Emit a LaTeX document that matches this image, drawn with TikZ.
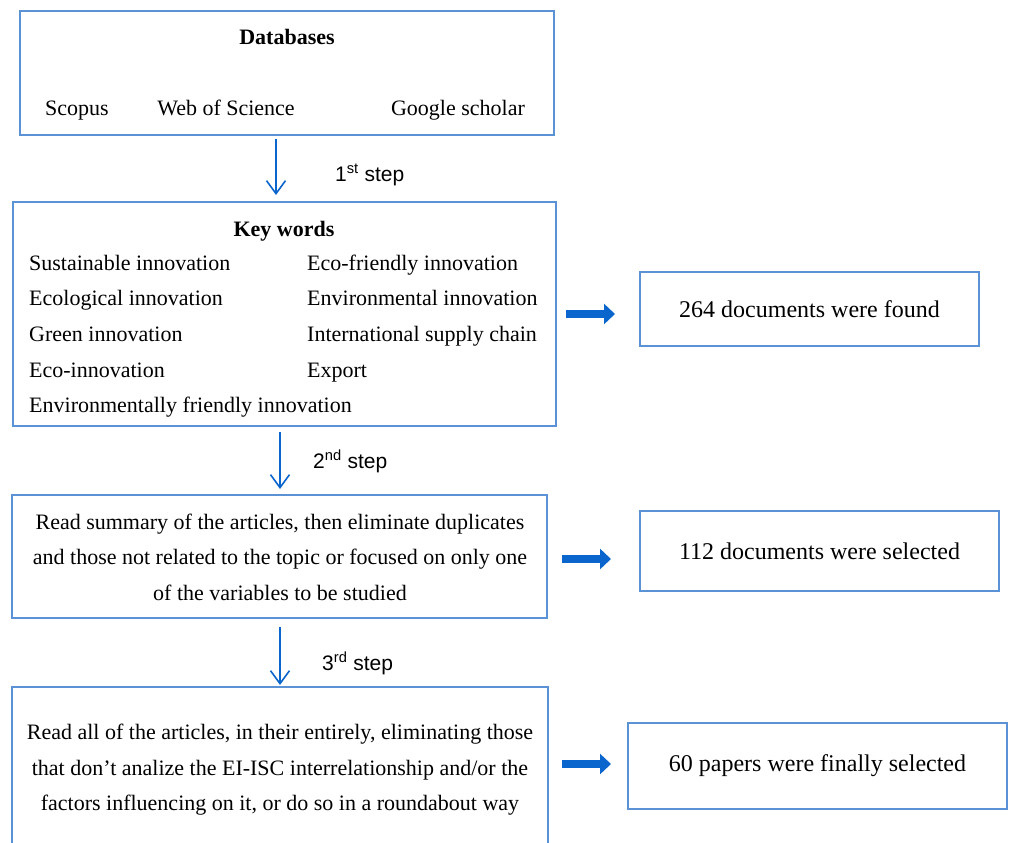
\documentclass[tikz,border=0pt]{standalone}
\usepackage{fontspec}
\setmainfont{Liberation Serif}
\newfontfamily\stepfont{Liberation Sans}
\usetikzlibrary{arrows.meta}
\definecolor{boxblue}{RGB}{91,145,213}
\definecolor{arrblue}{RGB}{10,102,204}
\begin{document}
\begin{tikzpicture}[x=1pt,y=-1pt,
  box/.style={draw=boxblue, line width=1.1pt, inner sep=0pt, outer sep=0pt, anchor=north west},
  rbox/.style={box, align=center, font=\fontsize{24}{28}\selectfont},
  txt/.style={inner sep=0pt, font=\fontsize{22}{26}\selectfont},
  para/.style={inner sep=0pt, align=center, font=\fontsize{22}{35.5}\selectfont},
  steplbl/.style={inner sep=0pt, anchor=base west, font=\stepfont\fontsize{21}{25}\selectfont},
  varrow/.style={draw=arrblue, line width=1.6pt, -{Straight Barb[length=13pt,width=19pt,line width=1.6pt]}},
  blockarrow/.style={draw=arrblue, line width=8pt, -{Triangle[length=11pt,width=20pt]}}]
\useasboundingbox (0,0) rectangle (1009,843);
\clip (0,0) rectangle (1009,843);
\fill[white] (0,0) rectangle (1009,843);

% boxes
\node[box, minimum width=534pt, minimum height=124pt] (b1) at (20,11) {};
\node[box, minimum width=543pt, minimum height=224pt] (kw) at (13,202) {};
\node[box, minimum width=535pt, minimum height=123pt] (b3) at (12,495) {};
\node[box, minimum width=536pt, minimum height=250pt] (b4) at (12,687) {};
\node[rbox, minimum width=339pt, minimum height=74pt] (r1) at (640,272) {264 documents were found};
\node[rbox, minimum width=359pt, minimum height=80pt] (r2) at (640,511) {112 documents were selected};
\node[rbox, minimum width=379pt, minimum height=86pt] (r3) at (628,723) {60 papers were finally selected};

% databases
\node[txt, anchor=base] (dbt) at (287,45) {\bfseries Databases};
\node[txt, anchor=base] (db1) at (77,115) {Scopus};
\node[txt, anchor=base] (db2) at (226,115) {Web of Science};
\node[txt, anchor=base] (db3) at (458,115) {Google scholar};

% key words
\node[txt, anchor=base] (kwt) at (284,236) {\bfseries Key words};
\node[txt, anchor=base west] (k1) at (29,270) {Sustainable innovation};
\node[txt, anchor=base west] (k2) at (29,305) {Ecological innovation};
\node[txt, anchor=base west] (k3) at (29,341) {Green innovation};
\node[txt, anchor=base west] (k4) at (29,377) {Eco-innovation};
\node[txt, anchor=base west] (k5) at (29,412) {Environmentally friendly innovation};
\node[txt, anchor=base west] (k6) at (307,270) {Eco-friendly innovation};
\node[txt, anchor=base west] (k7) at (307,305) {Environmental innovation};
\node[txt, anchor=base west] (k8) at (307,341) {International supply chain};
\node[txt, anchor=base west] (k9) at (307,377) {Export};

% paragraphs
\node[para] (p3) at (280,557) {Read summary of the articles, then eliminate duplicates\\and those not related to the topic or focused on only one\\of the variables to be studied};
\node[para] (p4) at (280,770) {Read all of the articles, in their entirely, eliminating those\\that don’t analize the EI-ISC interrelationship and/or the\\factors influencing on it, or do so in a roundabout way};

% vertical arrows
\draw[varrow, shorten <=4pt, shorten >=7pt] ([xshift=-11pt]b1.south) -- ([xshift=-11pt]b1.south |- kw.north);
\draw[varrow, shorten <=6pt, shorten >=6pt] ([xshift=-4.5pt]kw.south) -- ([xshift=-4.5pt]kw.south |- b3.north);
\draw[varrow, shorten <=9pt, shorten >=2pt] ([xshift=0.5pt]b3.south) -- ([xshift=0.5pt]b3.south |- b4.north);

% step labels
\node[steplbl] (s1) at (335,181) {1\textsuperscript{st} step};
\node[steplbl] (s2) at (313,468) {2\textsuperscript{nd} step};
\node[steplbl] (s3) at (322,670) {3\textsuperscript{rd} step};

% block arrows
\draw[blockarrow, shorten <=10pt, shorten >=25pt] (kw.east) -- (kw.east -| r1.west);
\draw[blockarrow, shorten <=15pt, shorten >=29pt] ([yshift=-2.5pt]b3.east) -- ([yshift=-2.5pt]b3.east -| r2.west);
\draw[blockarrow, shorten <=14pt, shorten >=17pt] ([yshift=2pt]r3.west -| b4.east) -- ([yshift=2pt]r3.west);
\end{tikzpicture}
\end{document}
